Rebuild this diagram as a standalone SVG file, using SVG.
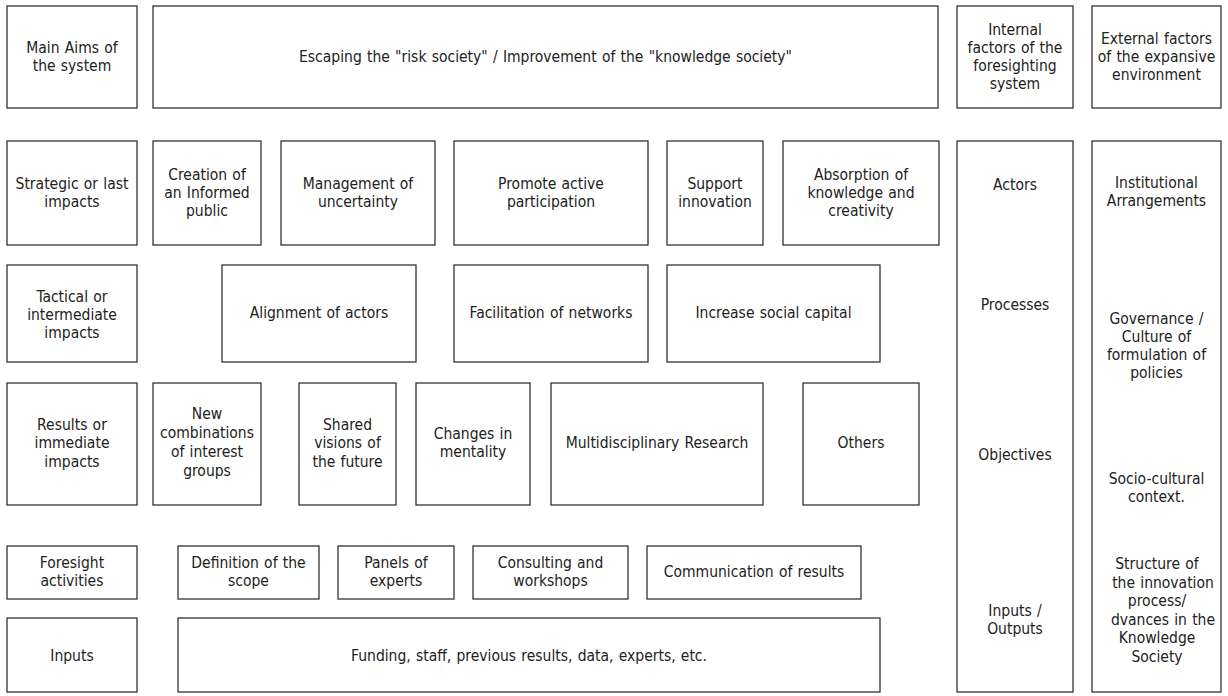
<svg xmlns="http://www.w3.org/2000/svg" width="1228" height="696" viewBox="0 0 1228 696">
  <style>
    .box { fill: #ffffff; stroke: #333333; stroke-width: 1.3; }
    .t { font-family: "DejaVu Sans Condensed", "DejaVu Sans", sans-serif; font-stretch: condensed; font-size: 15.5px; word-spacing: 0.8px; fill: #222222; text-anchor: middle; }
  </style>
  <rect x="0" y="0" width="1228" height="696" fill="#ffffff"/>

  <!-- Top row: aims and factor headers -->
  <g id="aims-label">
    <rect class="box" x="7" y="6" width="130" height="102"/>
    <text class="t" x="72"><tspan x="72" y="53">Main Aims of</tspan><tspan x="72" y="71">the system</tspan></text>
  </g>
  <g id="aims">
    <rect class="box" x="153" y="6" width="785" height="102"/>
    <text class="t" x="545.5" y="62">Escaping the "risk society" / Improvement of the "knowledge society"</text>
  </g>
  <g id="internal-factors-header">
    <rect class="box" x="957" y="6" width="116" height="102"/>
    <text class="t"><tspan x="1015" y="35">Internal</tspan><tspan x="1015" y="53">factors of the</tspan><tspan x="1015" y="71">foresighting</tspan><tspan x="1015" y="89">system</tspan></text>
  </g>
  <g id="external-factors-header">
    <rect class="box" x="1092" y="6" width="129" height="102"/>
    <text class="t"><tspan x="1156.5" y="44">External factors</tspan><tspan x="1156.5" y="62">of the expansive</tspan><tspan x="1156.5" y="80">environment</tspan></text>
  </g>

  <!-- Strategic impacts row -->
  <g id="strategic-impacts">
    <rect class="box" x="7" y="141" width="130" height="104"/>
    <text class="t"><tspan x="72" y="189">Strategic or last</tspan><tspan x="72" y="207">impacts</tspan></text>
  </g>
  <g id="informed-public">
    <rect class="box" x="153" y="141" width="108" height="104"/>
    <text class="t"><tspan x="207" y="180">Creation of</tspan><tspan x="207" y="198">an Informed</tspan><tspan x="207" y="216">public</tspan></text>
  </g>
  <g id="uncertainty">
    <rect class="box" x="281" y="141" width="154" height="104"/>
    <text class="t"><tspan x="358" y="189">Management of</tspan><tspan x="358" y="207">uncertainty</tspan></text>
  </g>
  <g id="participation">
    <rect class="box" x="454" y="141" width="194" height="104"/>
    <text class="t"><tspan x="551" y="189">Promote active</tspan><tspan x="551" y="207">participation</tspan></text>
  </g>
  <g id="innovation">
    <rect class="box" x="667" y="141" width="96" height="104"/>
    <text class="t"><tspan x="715" y="189">Support</tspan><tspan x="715" y="207">innovation</tspan></text>
  </g>
  <g id="absorption">
    <rect class="box" x="783" y="141" width="156" height="104"/>
    <text class="t"><tspan x="861" y="180">Absorption of</tspan><tspan x="861" y="198">knowledge and</tspan><tspan x="861" y="216">creativity</tspan></text>
  </g>

  <!-- Internal factors column -->
  <g id="internal-factors">
    <rect class="box" x="957" y="141" width="116" height="551"/>
    <text class="t" x="1015" y="190">Actors</text>
    <text class="t" x="1015" y="310">Processes</text>
    <text class="t" x="1015" y="460">Objectives</text>
    <text class="t"><tspan x="1015" y="616">Inputs /</tspan><tspan x="1015" y="634">Outputs</tspan></text>
  </g>

  <!-- External factors column -->
  <g id="external-factors">
    <rect class="box" x="1092" y="141" width="129" height="551"/>
    <text class="t"><tspan x="1156.5" y="188">Institutional</tspan><tspan x="1156.5" y="206">Arrangements</tspan></text>
    <text class="t"><tspan x="1156.5" y="324">Governance /</tspan><tspan x="1156.5" y="342">Culture of</tspan><tspan x="1156.5" y="360">formulation of</tspan><tspan x="1156.5" y="378">policies</tspan></text>
    <text class="t"><tspan x="1156.5" y="484">Socio-cultural</tspan><tspan x="1156.5" y="502">context.</tspan></text>
    <text class="t"><tspan x="1157" y="569">Structure of</tspan><tspan x="1163" y="587.5">the innovation</tspan><tspan x="1157" y="606">process/</tspan><tspan x="1163" y="625">dvances in the</tspan><tspan x="1157" y="643">Knowledge</tspan><tspan x="1157" y="662">Society</tspan></text>
  </g>

  <!-- Tactical impacts row -->
  <g id="tactical-impacts">
    <rect class="box" x="7" y="265" width="130" height="97"/>
    <text class="t"><tspan x="72" y="302">Tactical or</tspan><tspan x="72" y="320">intermediate</tspan><tspan x="72" y="338">impacts</tspan></text>
  </g>
  <g id="alignment">
    <rect class="box" x="222" y="265" width="194" height="97"/>
    <text class="t" x="319" y="318">Alignment of actors</text>
  </g>
  <g id="networks">
    <rect class="box" x="454" y="265" width="194" height="97"/>
    <text class="t" x="551" y="318">Facilitation of networks</text>
  </g>
  <g id="social-capital">
    <rect class="box" x="667" y="265" width="213" height="97"/>
    <text class="t" x="773.5" y="318">Increase social capital</text>
  </g>

  <!-- Immediate impacts row -->
  <g id="immediate-impacts">
    <rect class="box" x="7" y="383" width="130" height="122"/>
    <text class="t"><tspan x="72" y="430">Results or</tspan><tspan x="72" y="448">immediate</tspan><tspan x="72" y="466.5">impacts</tspan></text>
  </g>
  <g id="interest-groups">
    <rect class="box" x="153" y="383" width="108" height="122"/>
    <text class="t"><tspan x="207" y="419">New</tspan><tspan x="207" y="438">combinations</tspan><tspan x="207" y="457">of interest</tspan><tspan x="207" y="476">groups</tspan></text>
  </g>
  <g id="shared-visions">
    <rect class="box" x="299" y="383" width="97" height="122"/>
    <text class="t"><tspan x="347.5" y="430">Shared</tspan><tspan x="347.5" y="448">visions of</tspan><tspan x="347.5" y="466.5">the future</tspan></text>
  </g>
  <g id="mentality">
    <rect class="box" x="416" y="383" width="114" height="122"/>
    <text class="t"><tspan x="473" y="439">Changes in</tspan><tspan x="473" y="457">mentality</tspan></text>
  </g>
  <g id="research">
    <rect class="box" x="551" y="383" width="212" height="122"/>
    <text class="t" x="657" y="448">Multidisciplinary Research</text>
  </g>
  <g id="others">
    <rect class="box" x="803" y="383" width="116" height="122"/>
    <text class="t" x="861" y="448">Others</text>
  </g>

  <!-- Foresight activities row -->
  <g id="foresight-activities">
    <rect class="box" x="7" y="546" width="130" height="53"/>
    <text class="t"><tspan x="72" y="568">Foresight</tspan><tspan x="72" y="586">activities</tspan></text>
  </g>
  <g id="scope">
    <rect class="box" x="178" y="546" width="141" height="53"/>
    <text class="t"><tspan x="248.5" y="568">Definition of the</tspan><tspan x="248.5" y="586">scope</tspan></text>
  </g>
  <g id="panels">
    <rect class="box" x="338" y="546" width="116" height="53"/>
    <text class="t"><tspan x="396" y="568">Panels of</tspan><tspan x="396" y="586">experts</tspan></text>
  </g>
  <g id="workshops">
    <rect class="box" x="473" y="546" width="155" height="53"/>
    <text class="t"><tspan x="550.5" y="568">Consulting and</tspan><tspan x="550.5" y="586">workshops</tspan></text>
  </g>
  <g id="communication">
    <rect class="box" x="647" y="546" width="214" height="53"/>
    <text class="t" x="754" y="577">Communication of results</text>
  </g>

  <!-- Inputs row -->
  <g id="inputs-label">
    <rect class="box" x="7" y="618" width="130" height="74"/>
    <text class="t" x="72" y="661">Inputs</text>
  </g>
  <g id="inputs">
    <rect class="box" x="178" y="618" width="702" height="74"/>
    <text class="t" x="529" y="661">Funding, staff, previous results, data, experts, etc.</text>
  </g>
</svg>
